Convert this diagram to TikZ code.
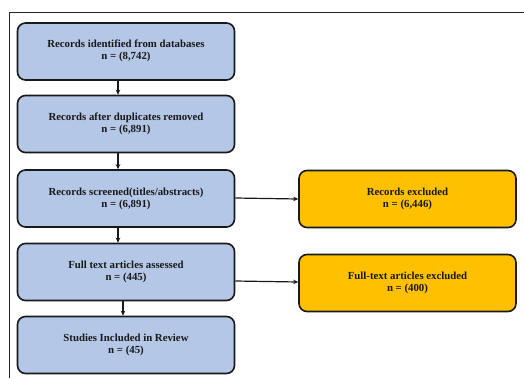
\documentclass[tikz,border=0pt]{standalone}
\usepackage{fontspec}
\setmainfont{Liberation Serif}
\usetikzlibrary{arrows.meta}
\definecolor{boxblue}{HTML}{B4C7E7}
\definecolor{boxorange}{HTML}{FFC000}
\tikzset{
  flowbox/.style={draw=black!90, line width=1.6pt, rounded corners=8pt,
    minimum width=217pt, minimum height=57pt, align=center,
    font=\fontsize{10.8}{12}\selectfont\bfseries, text=black!90, inner sep=0pt},
  bluebox/.style={flowbox, fill=boxblue},
  orangebox/.style={flowbox, fill=boxorange},
  flowarrow/.style={draw=black!90, line width=1.2pt, -{Stealth[length=5pt,width=4.5pt]}},
  framelinestyle/.style={draw=black!85, line width=1pt}
}
\begin{document}
\begin{tikzpicture}[x=1pt,y=1pt]
\useasboundingbox (0,0) rectangle (524,-378);
\draw[framelinestyle] (9,-378) -- (9,-12) -- (524,-12);
\node[bluebox] (b1) at (126,-51.5) {\raisebox{5pt}{\begin{tabular}{@{}c@{}}Records identified from databases\\ n = (8,742)\end{tabular}}};
\node[bluebox] (b2) at (126,-124) {Records after duplicates removed\\ n = (6,891)};
\node[bluebox] (b3) at (126,-198.5) {Records screened(titles/abstracts)\\ n = (6,891)};
\node[bluebox] (b4) at (126,-272) {Full text articles assessed\\ n = (445)};
\node[bluebox] (b5) at (126,-345) {Studies Included in Review\\ n = (45)};
\node[orangebox] (e1) at (407.5,-199) {Records excluded\\ n = (6,446)};
\node[orangebox] (e2) at (407.5,-283) {Full-text articles excluded\\ n = (400)};
\draw[flowarrow] ([xshift=-8pt]b1.south) -- ([xshift=-8pt]b2.north);
\draw[flowarrow] ([xshift=-8pt]b2.south) -- ([xshift=-8pt]b3.north);
\draw[flowarrow] ([xshift=-8pt]b3.south) -- ([xshift=-8pt]b4.north);
\draw[flowarrow] ([xshift=-3pt]b4.south) -- ([xshift=-3pt]b5.north);
\draw[flowarrow] ([yshift=0.5pt]b3.east) -- (e1.west);
\draw[flowarrow] ([yshift=-9pt]b4.east) -- ([yshift=1pt]e2.west);
\end{tikzpicture}
\end{document}
